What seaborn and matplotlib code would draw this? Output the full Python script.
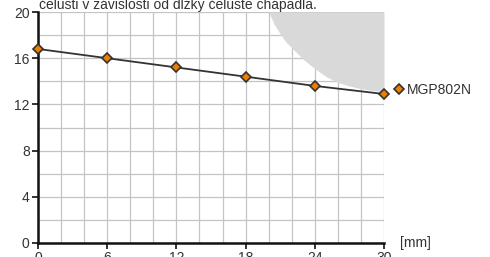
import numpy as np
import pandas as pd
import matplotlib
matplotlib.use("Agg")
import matplotlib.pyplot as plt
import seaborn as sns
from matplotlib.lines import Line2D

# dlzka celuste [mm] a sila
dlzka = [0, 6, 12, 18, 24, 30]
sila = [16.8, 16.0, 15.2, 14.4, 13.6, 12.9]
seria = "MGP802N"

# hranica sivej oblasti (mimo povoleny rozsah)
hranica_x = [20, 20.5, 21, 21.5, 22, 23, 24, 25, 26, 27, 28, 29, 30]
hranica_y = [20, 18.9, 18.1, 17.4, 16.9, 15.9, 15.1, 14.4, 13.9, 13.6, 13.35, 13.2, 13.1]

titulok = "čelusti v závislosti od dĺžky čeluste chápadla."
x_ticks = [0, 6, 12, 18, 24, 30]
y_ticks = [0, 4, 8, 12, 16, 20]

sns.set_style("white")
plt.rcParams['font.family'] = ['Liberation Sans', 'DejaVu Sans']

df = pd.DataFrame({"dlzka": dlzka, "sila": sila})

fig = plt.figure(figsize=(4.9, 2.57), dpi=100)
ax = fig.add_axes([38 / 490, 14 / 257, 346 / 490, 231 / 257])

ax.fill_between(hranica_x, hranica_y, 20, color="#d9d9d9", lw=0, zorder=1)

sns.lineplot(data=df, x="dlzka", y="sila", ax=ax, color="#333333", lw=1.3,
             marker="D", markersize=5.5, markerfacecolor="#f07d00",
             markeredgecolor="#333333", markeredgewidth=1.2, zorder=3,
             clip_on=False)

ax.set_xlim(0, 30)
ax.set_ylim(0, 20)
ax.set_xticks(x_ticks)
ax.set_yticks(y_ticks)
ax.set_xticks(np.arange(0, 31, 2), minor=True)
ax.set_yticks(np.arange(0, 21, 2), minor=True)
ax.grid(which="both", color="#c4c4c4", lw=0.9, zorder=0)
ax.set_axisbelow(True)
ax.set_xlabel("")
ax.set_ylabel("")

for s in ["top", "right"]:
    ax.spines[s].set_visible(False)
for s in ["left", "bottom"]:
    ax.spines[s].set_color("#111111")
    ax.spines[s].set_linewidth(1.8)

ax.tick_params(which="major", axis="both", length=4, width=1.2, color="#111111",
               labelsize=10, labelcolor="#333333", pad=2, direction="out")
ax.tick_params(which="minor", length=0)
ax.tick_params(axis="x", bottom=True)
ax.tick_params(axis="y", left=True)

fig.text(400 / 490, 1 - 243 / 257, "[mm]", fontsize=10, color="#333333",
         va="center", ha="left")
fig.text(39 / 490, 1 - 9 / 257, titulok, fontsize=10, color="#333333",
         va="baseline", ha="left")

handle = Line2D([], [], marker="D", ls="none", markersize=5.5,
                markerfacecolor="#f07d00", markeredgecolor="#333333",
                markeredgewidth=1.2)
ax.legend(handles=[handle], labels=[seria], loc="center left",
          bbox_to_anchor=(0.99, 1 - (90 - 12) / 231), frameon=False,
          handletextpad=0.0, handlelength=1.2, fontsize=10,
          labelcolor="#333333", borderaxespad=0.3)

fig.savefig("out.png", dpi=100)
